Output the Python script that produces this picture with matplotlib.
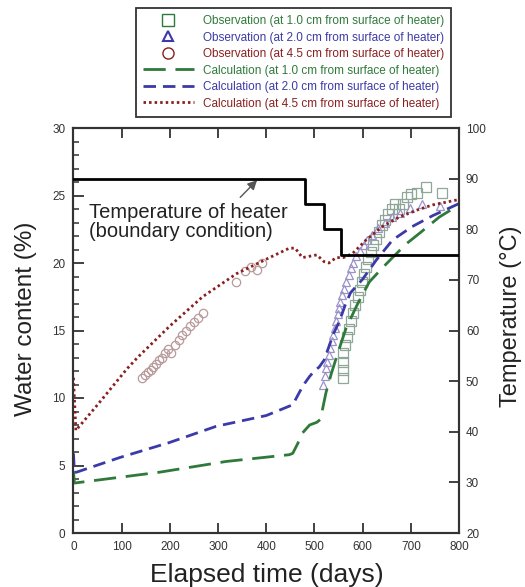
import matplotlib
matplotlib.use("Agg")
import matplotlib.pyplot as plt
from matplotlib.lines import Line2D
from matplotlib.ticker import MultipleLocator

plt.rcParams['font.family'] = ['Liberation Sans', 'DejaVu Sans']

# observations (water content %, vs elapsed days)
obs10_days = [560, 560, 560, 560, 563, 568, 572, 576, 580, 585, 590, 594, 598, 603, 607,
              612, 617, 622, 628, 634, 640, 646, 652, 660, 668, 676, 684, 692, 700, 712, 732, 765]
obs10_wc = [11.5, 12.1, 12.7, 13.3, 13.9, 14.5, 15.1, 15.7, 16.3, 16.9, 17.5, 18.0, 18.6, 19.2, 19.7,
            20.3, 20.8, 21.3, 21.8, 22.3, 22.8, 23.2, 23.6, 24.0, 24.4, 24.0, 24.4, 24.9, 25.1, 25.2, 25.6, 25.2]
obs20_days = [517, 521, 524, 527, 530, 533, 536, 539, 542, 545, 548, 551, 554, 558, 562, 566,
              571, 576, 581, 587, 594, 602, 610, 620, 632, 646, 662, 678, 698, 724, 760]
obs20_wc = [11.0, 11.6, 12.2, 12.7, 13.2, 13.7, 14.2, 14.7, 15.2, 15.7, 16.2, 16.7, 17.1, 17.6, 18.1, 18.6,
            19.1, 19.6, 20.0, 20.5, 20.9, 21.3, 21.7, 22.1, 22.6, 23.0, 23.4, 23.7, 24.1, 24.4, 24.2]
obs45_days = [143, 149, 155, 160, 166, 172, 178, 184, 190, 196, 202, 210, 218, 226, 234, 242,
              250, 258, 268, 338, 355, 368, 380, 392]
obs45_wc = [11.5, 11.7, 11.9, 12.1, 12.3, 12.5, 12.8, 13.0, 13.3, 13.6, 13.3, 13.9, 14.3, 14.7, 15.0, 15.3,
            15.6, 15.9, 16.3, 18.6, 19.4, 19.7, 19.5, 20.0]

# calculations
calc10_days = [0, 2, 35, 178, 317, 448, 455, 465, 475, 490, 505, 512, 517, 524, 535, 550, 566,
               590, 614, 640, 662, 690, 718, 759, 800]
calc10_wc = [4.6, 3.7, 3.85, 4.5, 5.3, 5.8, 5.9, 6.6, 7.4, 8.0, 8.2, 8.4, 9.2, 10.4, 11.8, 13.5, 15.2,
             17.0, 18.6, 19.6, 20.4, 21.4, 22.2, 23.4, 24.3]
calc20_days = [0, 2, 6, 97, 199, 296, 400, 455, 470, 480, 490, 500, 510, 520, 530, 540, 552, 565,
               575, 600, 628, 662, 703, 745, 800]
calc20_wc = [5.9, 4.5, 4.5, 5.6, 6.7, 7.9, 8.7, 9.5, 10.5, 11.1, 11.6, 12.0, 12.3, 12.8, 13.8, 14.8, 15.7,
             17.0, 17.8, 18.8, 20.2, 21.7, 22.7, 23.5, 24.4]
calc45_days = [0, 5, 50, 112, 133, 199, 268, 338, 407, 448, 460, 475, 490, 505, 520, 530, 545,
               560, 579, 607, 641, 676, 711, 745, 800]
calc45_wc = [11.5, 7.6, 9.5, 12.2, 13.0, 15.3, 17.5, 19.2, 20.4, 21.1, 21.1, 20.4, 20.5, 20.6, 20.1,
             20.0, 20.4, 20.4, 20.7, 21.7, 22.7, 23.4, 23.9, 24.3, 24.7]

# heater temperature (boundary condition), deg C
heater_days = [0, 480, 520, 555, 800]
heater_temp = [90, 85, 80, 75, 75]

GREEN = "#2f7a3a"
BLUE = "#3b3aa8"
RED = "#8a1f1f"

fig = plt.figure(figsize=(5.25, 5.87), dpi=100)
ax = fig.add_axes([72.5 / 525, 54 / 587, (459 - 72.5) / 525, (533 - 128) / 587])

ax.plot(obs10_days, obs10_wc, ls="none", marker="s", ms=6.5, mfc="none", mec="#8fa796", mew=0.9, zorder=2)
ax.plot(obs20_days, obs20_wc, ls="none", marker="^", ms=6, mfc="none", mec="#9b92c9", mew=0.9, zorder=2)
ax.plot(obs45_days, obs45_wc, ls="none", marker="o", ms=6, mfc="none", mec="#b89a9a", mew=0.9, zorder=2)

ax.plot(calc10_days, calc10_wc, color=GREEN, lw=2, dashes=(8, 3.5), zorder=3)
ax.plot(calc20_days, calc20_wc, color=BLUE, lw=2, dashes=(4.5, 2.5), zorder=3)
ax.plot(calc45_days, calc45_wc, color=RED, lw=2, dashes=(0.9, 1.1), zorder=3)

ax.set_xlim(-2, 800)
ax.set_ylim(0, 30)
ax.xaxis.set_major_locator(MultipleLocator(100))
ax.yaxis.set_major_locator(MultipleLocator(5))
ax.yaxis.set_minor_locator(MultipleLocator(1))
ax.tick_params(axis="x", direction="in", top=True, length=7, width=1.3, labelsize=8.5,
               labelcolor="#333333", color="#333333", pad=6)
ax.tick_params(axis="y", which="major", direction="in", right=False, length=8, width=1.3,
               labelsize=8.5, labelcolor="#333333", color="#333333", pad=5)
ax.tick_params(axis="y", which="minor", direction="in", right=False, length=4, width=1.1, color="#333333")

ax2 = ax.twinx()
ax2.plot(heater_days, heater_temp, color="black", lw=2, drawstyle="steps-post", zorder=4)
ax2.set_ylim(20, 100)
ax2.yaxis.set_major_locator(MultipleLocator(10))
ax2.tick_params(axis="y", direction="in", length=7, width=1.3, labelsize=8.5,
                labelcolor="#333333", color="#333333", pad=5)
ax2.annotate("", xy=(381, 89.7), xytext=(346, 86.3),
             arrowprops=dict(arrowstyle="-|>", color="#555555", lw=1, mutation_scale=14,
                             shrinkA=0, shrinkB=0, facecolor="black"))

for a in (ax, ax2):
    for s in a.spines.values():
        s.set_linewidth(1.5)
        s.set_color("#333333")

ax.text(33, 24.45, "Temperature of heater\n(boundary condition)", fontsize=14.5,
        va="top", ha="left", linespacing=1.0, color="#222222")

fig.text(26 / 525, 1 - 319 / 587, "Water content (%)", rotation=90, ha="center", va="center",
         fontsize=17.5, color="#222222")
fig.text(511 / 525, 1 - 316 / 587, "Temperature (\u00b0C)", rotation=90, ha="center", va="center",
         fontsize=17, color="#222222")
fig.text(267 / 525, 1 - 575 / 587, "Elapsed time (days)", ha="center", va="center",
         fontsize=19, color="#222222")

handles = [
    Line2D([], [], ls="none", marker="s", ms=8, mfc="none", mec=GREEN, mew=1),
    Line2D([], [], ls="none", marker="^", ms=7, mfc="none", mec=BLUE, mew=1.5),
    Line2D([], [], ls="none", marker="o", ms=8, mfc="none", mec=RED, mew=1),
    Line2D([], [], color=GREEN, lw=2, dashes=(8, 3.5)),
    Line2D([], [], color=BLUE, lw=2, dashes=(4.5, 2.5)),
    Line2D([], [], color=RED, lw=2, dashes=(0.9, 1.1)),
]
labels = [
    "Observation (at 1.0 cm from surface of heater)",
    "Observation (at 2.0 cm from surface of heater)",
    "Observation (at 4.5 cm from surface of heater)",
    "Calculation (at 1.0 cm from surface of heater)",
    "Calculation (at 2.0 cm from surface of heater)",
    "Calculation (at 4.5 cm from surface of heater)",
]
leg = fig.legend(handles, labels, loc="upper right", bbox_to_anchor=(451 / 525, 1 - 8 / 587),
                 fontsize=8.5, frameon=True, fancybox=False, edgecolor="black", borderaxespad=0,
                 handlelength=4.3, handletextpad=0.75, labelspacing=0.38, borderpad=0.6)
leg.get_frame().set_linewidth(1.3)
for txt, c in zip(leg.get_texts(), [GREEN, BLUE, RED, GREEN, BLUE, RED]):
    txt.set_color(c)

fig.savefig("out.png", dpi=100)
